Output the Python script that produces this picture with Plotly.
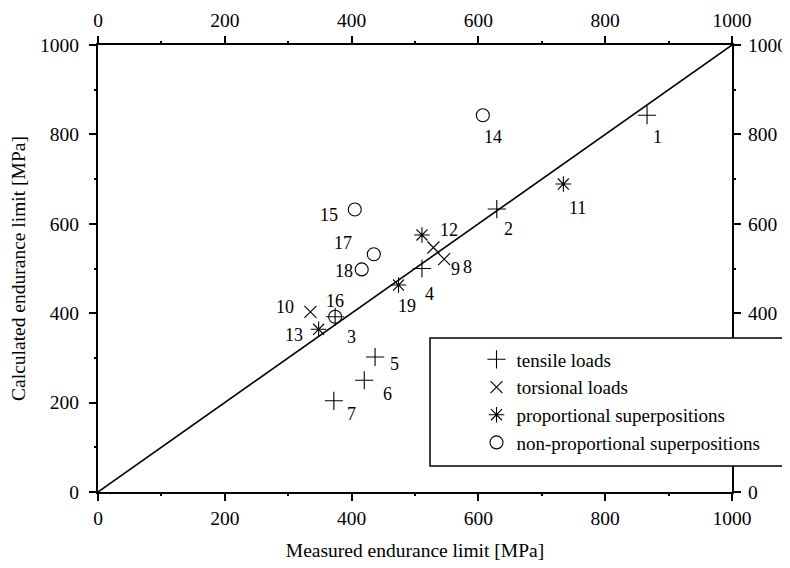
import plotly.graph_objects as go

# ---------------- data ----------------
tensile_ids = ["1", "2", "3", "4", "5", "6", "7"]
tensile_x = [866, 629, 374, 511, 437, 420, 372]
tensile_y = [843, 633, 392, 500, 302, 250, 204]

torsional_ids = ["9", "8", "10"]
torsional_x = [529, 546, 335]
torsional_y = [547, 521, 403]

proportional_ids = ["11", "12", "13", "19"]
proportional_x = [734, 511, 348, 474]
proportional_y = [689, 575, 364, 463]

nonprop_ids = ["14", "15", "16", "17", "18"]
nonprop_x = [607, 405, 374, 435, 416]
nonprop_y = [843, 632, 392, 532, 498]

diag_x = [0, 1000]
diag_y = [0, 1000]

tick_vals = [0, 200, 400, 600, 800, 1000]

# label offsets in pixels (dx right, dy down) -- styling only
label_offsets = {
    "1": (10, 22), "2": (12, 20), "3": (16, 20), "4": (8, 25), "5": (19, 7),
    "6": (23, 14), "7": (18, 13), "9": (22, 22), "8": (23, 8), "10": (-25, -5),
    "11": (14, 24), "12": (27, -5), "13": (-25, 6), "19": (8, 21),
    "14": (10, 22), "15": (-26, 5), "16": (0, -16), "17": (-31, -11), "18": (-18, 2),
}

FONT = "Liberation Serif"
FS = 19.5
fig = go.Figure()

fig.add_trace(go.Scatter(x=diag_x, y=diag_y, mode="lines",
                         line=dict(color="black", width=1.6),
                         showlegend=False, hoverinfo="skip"))

series = [
    ("tensile loads", tensile_ids, tensile_x, tensile_y, "cross-thin-open", 13),
    ("torsional loads", torsional_ids, torsional_x, torsional_y, "x-thin-open", 12),
    ("proportional superpositions", proportional_ids, proportional_x, proportional_y, "asterisk-open", 13),
    ("non-proportional superpositions", nonprop_ids, nonprop_x, nonprop_y, "circle-open", 13),
]
for i, (name, ids, xs, ys, sym, size) in enumerate(series):
    fig.add_trace(go.Scatter(
        x=xs, y=ys, mode="markers", name=name,
        marker=dict(symbol=sym, size=size, color="black",
                    line=dict(color="black", width=1.1)),
    ))
    for lid, xv, yv in zip(ids, xs, ys):
        dx, dy = label_offsets[lid]
        fig.add_annotation(x=xv, y=yv, text=lid, showarrow=False,
                           xshift=dx, yshift=-dy,
                           font=dict(family=FONT, size=18, color="black"))

# invisible trace on secondary axes so they render
fig.add_trace(go.Scatter(x=[0], y=[0], xaxis="x2", yaxis="y2", mode="markers",
                         marker=dict(opacity=0), showlegend=False, hoverinfo="skip"))

axis_common = dict(
    range=[0, 1000], tickvals=tick_vals, ticks="outside", ticklen=7, tickwidth=2,
    tickcolor="black", showline=True, linecolor="black", linewidth=2,
    showgrid=False, zeroline=False, automargin=False,
    tickfont=dict(family=FONT, size=FS, color="black"),
    minor=dict(dtick=200, tick0=100, ticks="outside", ticklen=2, tickwidth=2,
               tickcolor="black", showgrid=False),
)

# margins compensate for the page's default 8px body margin
fig.update_layout(
    width=790, height=568,
    margin=dict(l=90, r=66, t=37, b=84, autoexpand=False),
    paper_bgcolor="white", plot_bgcolor="white",
    xaxis=dict(**axis_common, ticklabelstandoff=1,
               title=dict(text="Measured endurance limit [MPa]",
                          font=dict(family=FONT, size=FS, color="black"), standoff=15)),
    yaxis=dict(**axis_common, ticklabelstandoff=6,
               title=dict(text="Calculated endurance limit [MPa]",
                          font=dict(family=FONT, size=FS, color="black"), standoff=18)),
    xaxis2=dict(**axis_common, overlaying="x", side="top", anchor="y", ticklabelstandoff=1),
    yaxis2=dict(**axis_common, overlaying="y", side="right", anchor="x", ticklabelstandoff=3),
    showlegend=True,
    legend=dict(x=0.597, y=0.339, xanchor="left", yanchor="top",
                bgcolor="rgba(0,0,0,0)", borderwidth=0,
                font=dict(family=FONT, size=19, color="black"),
                tracegroupgap=0, itemwidth=30),
    shapes=[dict(type="rect", xref="paper", yref="paper",
                 x0=0.5237, x1=1.1, y0=0.0582, y1=0.3445,
                 line=dict(color="black", width=1.5), fillcolor="white", layer="above")],
)

fig.write_html("out.html")
